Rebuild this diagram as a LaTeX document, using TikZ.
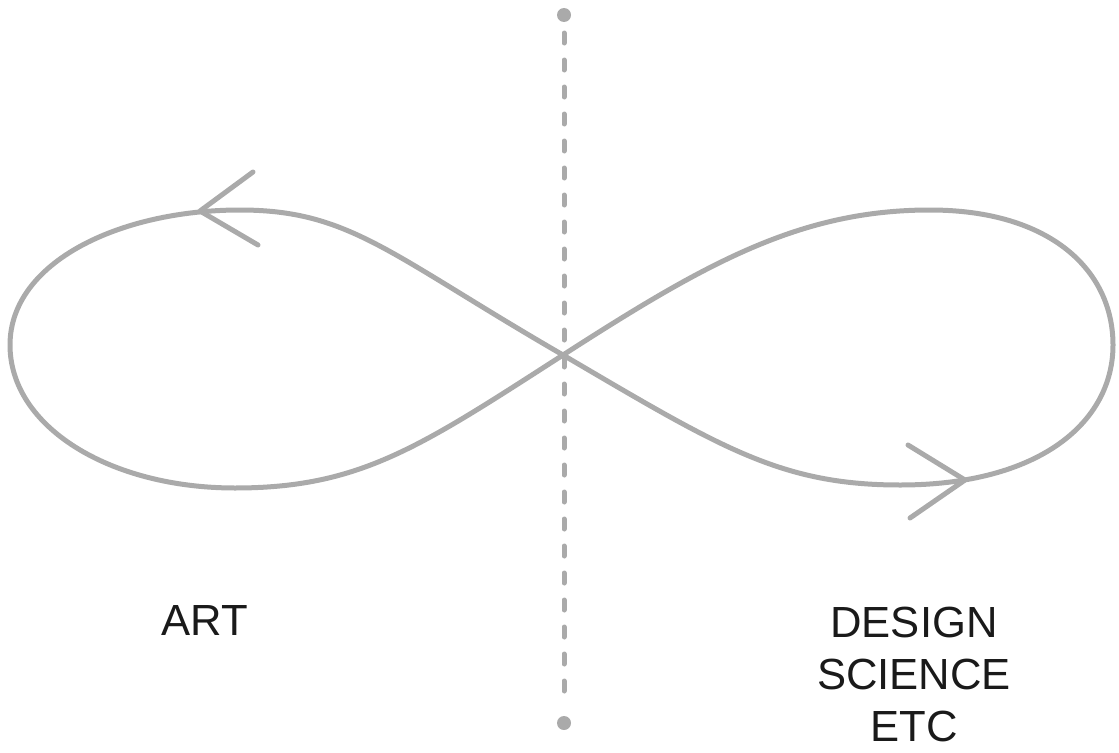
\documentclass[tikz,border=0pt]{standalone}
\usepackage{fontspec}
\setmainfont{Liberation Sans}
\usetikzlibrary{arrows.meta,positioning,calc}
\definecolor{loopgray}{HTML}{AAAAAA}
\definecolor{inkdark}{HTML}{1A1A1A}
\tikzset{
  loopline/.style={draw=loopgray, line width=2.5pt, line cap=round, line join=round},
  divider/.style={draw=loopgray, line width=2.5pt, line cap=round, dash pattern=on 5pt off 8.5pt},
  enddot/.style={circle, fill=loopgray, inner sep=0pt, minimum size=7pt},
  sidelabel/.style={text=inkdark, align=center, font=\fontsize{21.8}{26}\selectfont}}

\begin{document}
\begin{tikzpicture}[x=0.5pt, y=0.5pt]
    \useasboundingbox (0,0) rectangle (1119,752);
    % vertical divider
    \node[enddot] (dtop) at (564,737) {};
    \node[enddot] (dbot) at (564,29) {};
    \draw[divider] ([yshift=-9pt]dtop.center) -- ([yshift=9pt]dbot.center);
    % the figure eight
    \coordinate (mid) at (563,397);
    \draw[loopline] (mid)
      .. controls (390,497) and (350,542) .. (240,542)
      .. controls (120,542) and (10,490) .. (10,407)
      .. controls (10,325) and (110,264) .. (235,264)
      .. controls (360,264) and (420,305) .. (mid)
      .. controls (706,489) and (800,542) .. (930,542)
      .. controls (1050,542) and (1113,482) .. (1113,407)
      .. controls (1113,330) and (1040,267) .. (900,267)
      .. controls (780,267) and (720,305) .. (mid);
    % open arrow heads
    \draw[loopline] (253,580) -- (200,541) -- (258,507);
    \draw[loopline] (908,307) -- (965,272) -- (910,234);
    % labels
    \node[sidelabel, anchor=base] (art) at (205,117) {ART};
    \node[sidelabel] (design) at (914,78) {DESIGN\\SCIENCE\\ETC};
\end{tikzpicture}
\end{document}
